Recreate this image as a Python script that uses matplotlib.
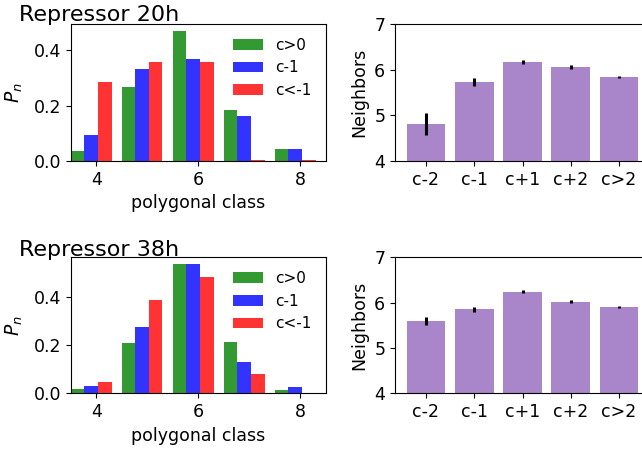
import matplotlib
matplotlib.use("Agg")
import matplotlib.pyplot as plt
import numpy as np

# polygon class distributions
classes = [4, 5, 6, 7, 8]
legend_labels = ["c>0", "c-1", "c<-1"]

p20_pos = [0.036, 0.268, 0.471, 0.185, 0.0435]
p20_m1 = [0.094, 0.334, 0.370, 0.163, 0.0435]
p20_lt = [0.286, 0.359, 0.359, 0.002, 0.002]

p38_pos = [0.018, 0.210, 0.539, 0.214, 0.014]
p38_m1 = [0.031, 0.276, 0.539, 0.131, 0.026]
p38_lt = [0.047, 0.389, 0.485, 0.081, 0.003]

# mean neighbour counts
nb_labels = ["c-2", "c-1", "c+1", "c+2", "c>2"]
nb20 = [4.81, 5.73, 6.17, 6.06, 5.84]
nb20_err = [0.25, 0.08, 0.05, 0.045, 0.02]
nb38 = [5.60, 5.85, 6.24, 6.02, 5.91]
nb38_err = [0.085, 0.06, 0.037, 0.033, 0.02]

W, H = 642, 453
FS = 12.5
fig = plt.figure(figsize=(W / 100, H / 100), dpi=100)

def px_axes(x0, y0, w, h):
    return fig.add_axes([x0 / W, 1 - (y0 + h) / H, w / W, h / H])

def hist_panel(ax, series, ymax):
    x = np.array(classes, dtype=float)
    w = 0.8 / 3
    cols = ["green", "blue", "red"]
    for i, (vals, c, lab) in enumerate(zip(series, cols, legend_labels)):
        ax.bar(x - 0.5 + i * w, vals, width=w, align="edge", color=c, alpha=0.8, label=lab)
    ax.set_xlim(3.5, 8.5)
    ax.set_ylim(0, ymax)
    ax.set_xticks([4, 6, 8])
    ax.set_yticks([0.0, 0.2, 0.4])
    ax.tick_params(labelsize=FS)
    ax.set_xlabel("polygonal class", fontsize=FS)
    ax.set_ylabel("$P_n$", fontsize=13.5, labelpad=6)
    ax.legend(frameon=False, loc="upper right", fontsize=11)

def nb_panel(ax, vals, errs):
    pos = np.arange(len(nb_labels))
    ax.bar(pos, vals, width=0.8, color="tab:purple", alpha=0.8,
           yerr=errs, error_kw=dict(ecolor="black", elinewidth=2.2, capsize=0))
    ax.set_xlim(-0.64, 4.64)
    ax.set_ylim(4, 7)
    ax.set_xticks(pos)
    ax.set_xticklabels(nb_labels)
    ax.set_yticks([4, 5, 6, 7])
    ax.tick_params(labelsize=FS)
    ax.set_ylabel("Neighbors", fontsize=FS)

ax1 = px_axes(70.7, 24, 255, 137)
hist_panel(ax1, [p20_pos, p20_m1, p20_lt], 0.495)
ax2 = px_axes(395, 24, 255, 137)
nb_panel(ax2, nb20, nb20_err)

ax3 = px_axes(70.7, 257.3, 255, 136)
hist_panel(ax3, [p38_pos, p38_m1, p38_lt], 0.567)
ax4 = px_axes(395, 257.3, 255, 136)
nb_panel(ax4, nb38, nb38_err)

fig.text(19 / W, 1 - 20.7 / H, "Repressor 20h", fontsize=16, ha="left", va="baseline")
fig.text(19 / W, 1 - 255.7 / H, "Repressor 38h", fontsize=16, ha="left", va="baseline")

fig.savefig("out.png", dpi=100)
